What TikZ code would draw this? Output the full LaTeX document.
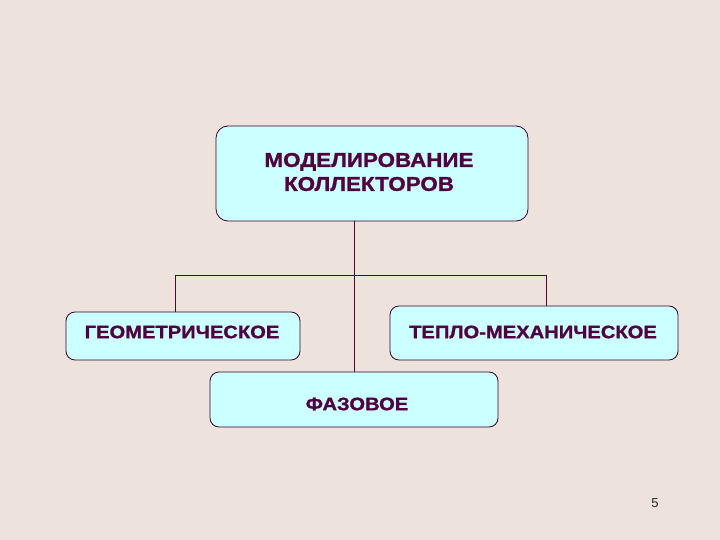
\documentclass[tikz,border=0pt]{standalone}
\usepackage{fontspec}
\setmainfont{Liberation Sans}
\newfontfamily\lblfont[FakeStretch=1.12,FakeBold=1.2]{Liberation Sans Bold}
\definecolor{bgc}{RGB}{238,227,220}
\definecolor{boxfill}{RGB}{204,255,255}
\definecolor{boxline}{RGB}{51,0,51}
\definecolor{txtc}{RGB}{80,0,64}
\definecolor{linec}{RGB}{70,10,58}
\begin{document}
\begin{tikzpicture}[x=1pt,y=-1pt,
  boxstyle/.style={draw=boxline, fill=boxfill, line width=0.8pt, rounded corners=12pt},
  labelstyle/.style={text=txtc, font=\lblfont\fontsize{18}{23}\selectfont, align=center},
  conn/.style={draw=linec, line width=1pt}]
\fill[bgc] (0,0) rectangle (720,540);
\useasboundingbox (0,0) rectangle (720,540);
% boxes
\draw[boxstyle] (216,126) rectangle (528,221);
\node[labelstyle, font=\lblfont\fontsize{20}{24}\selectfont] (top) at (369,172) {МОДЕЛИРОВАНИЕ\\КОЛЛЕКТОРОВ};
\coordinate (topb) at (354,221);
\draw[boxstyle, rounded corners=9pt] (66,312) rectangle (300,360);
\node[labelstyle] (geo) at (182,332) {ГЕОМЕТРИЧЕСКОЕ};
\draw[boxstyle, rounded corners=9pt] (390,306) rectangle (678,360);
\node[labelstyle] (tep) at (533,332) {ТЕПЛО-МЕХАНИЧЕСКОЕ};
\draw[boxstyle, rounded corners=9pt] (210,372) rectangle (498,427);
\node[labelstyle] (faz) at (357,404) {ФАЗОВОЕ};
% connector coordinates
\coordinate (jl) at (175,275);
\coordinate (jr) at (546,275);
\coordinate (geot) at (175,312);
\coordinate (tept) at (546,306);
\coordinate (fazt) at (354,372);
\draw[conn] (topb) -- (fazt);
\draw[conn] (geot) -- (jl) -- (jr) -- (tept);
% page number
\node[font=\fontsize{13}{15}\selectfont, text=black!85] (pnum) at (655,503) {5};
\end{tikzpicture}
\end{document}
